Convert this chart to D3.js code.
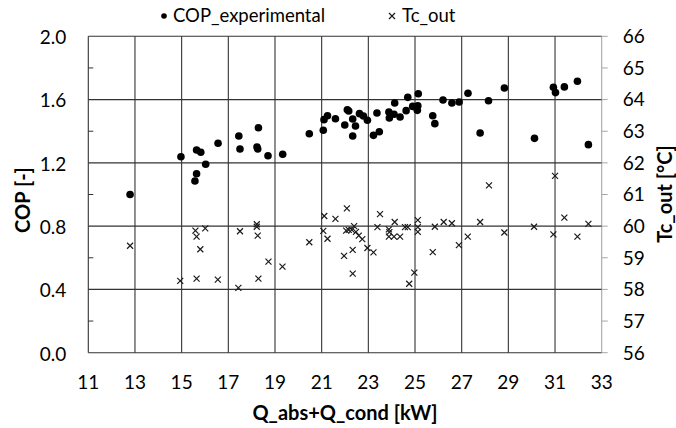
<!DOCTYPE html>
<html><head><meta charset="utf-8">
<script src="https://cdn.jsdelivr.net/npm/d3@7"></script>
<style>body{margin:0;background:#fff}svg{display:block}text{font-family:Lato,"Open Sans",sans-serif;fill:#000}</style>
</head><body>
<script>
const copX = [12.79,14.97,15.64,15.82,15.57,15.64,16.03,16.56,17.45,17.5,18.29,18.23,18.26,18.7,19.33,
20.47,21.07,21.1,21.25,21.59,21.99,22.1,22.16,22.33,22.45,22.33,22.62,22.79,22.96,23.22,23.47,23.37,23.88,23.9,24.1,24.36,24.13,24.62,24.69,24.9,25.14,25.12,25.1,25.76,25.85,26.2,26.58,26.89,27.27,
28.15,27.79,28.83,30.12,30.93,31.02,31.4,31.96,32.43];
const copY = [1.00,1.239,1.281,1.267,1.085,1.131,1.191,1.324,1.370,1.288,1.422,1.300,1.288,1.245,1.254,
1.384,1.406,1.473,1.498,1.479,1.439,1.536,1.528,1.477,1.433,1.370,1.511,1.496,1.469,1.374,1.397,1.515,1.521,1.484,1.507,1.490,1.578,1.530,1.614,1.557,1.637,1.561,1.532,1.498,1.448,1.597,1.578,1.585,1.640,
1.593,1.389,1.673,1.355,1.678,1.644,1.680,1.716,1.315];
const tcX = [12.79,14.94,15.59,15.64,16.01,15.8,15.64,16.55,17.5,17.43,18.22,18.22,18.26,18.29,18.72,19.32,
20.47,21.11,21.07,21.25,21.59,22.08,21.96,22.05,22.16,22.33,22.33,22.29,22.39,22.47,22.59,22.74,22.96,23.22,23.39,23.5,23.88,23.88,23.9,24.13,24.1,24.36,24.57,24.69,24.75,24.97,25.12,25.12,25.12,25.76,25.85,26.23,26.58,26.88,27.26,
27.79,28.17,28.83,30.1,30.93,31.0,31.4,31.96,32.43];
const tcY = [59.38,58.27,59.86,59.67,59.93,59.27,58.34,58.31,59.84,58.05,60.06,59.98,59.70,58.34,58.88,58.72,
59.49,60.32,59.85,59.60,60.23,60.56,59.06,59.86,59.88,59.25,58.50,59.88,60.00,59.82,59.70,59.59,59.31,59.17,59.97,60.38,59.90,59.67,59.81,60.13,59.67,59.67,59.97,59.97,58.18,58.53,60.19,59.97,59.82,59.18,59.98,60.13,60.09,59.40,59.67,
60.13,61.29,59.80,59.98,59.74,61.59,60.27,59.67,60.07];
const xTicks = [11,13,15,17,19,21,23,25,27,29,31,33];
const yTicks = [0.0,0.4,0.8,1.2,1.6,2.0];
const yMinor = [0.2,0.6,1.0,1.4,1.8];
const y2Ticks = [56,57,58,59,60,61,62,63,64,65,66];

const W=676,H=428;
const L=88.3,R=601.7,T=36.3,B=352.7;
const svg=d3.select("body").append("svg").attr("width",W).attr("height",H);
const x=d3.scaleLinear().domain([11,33]).range([L,R]);
const y=d3.scaleLinear().domain([0,2]).range([B,T]);
const y2=d3.scaleLinear().domain([56,66]).range([B,T]);
const grid="#333";

svg.append("g").selectAll("line").data(xTicks).join("line")
 .attr("x1",d=>x(d)).attr("x2",d=>x(d)).attr("y1",T).attr("y2",B)
 .attr("stroke",d=>d===33?"#a6a6a6":grid).attr("stroke-width",1.1);
svg.append("g").selectAll("line").data(yTicks).join("line")
 .attr("x1",L).attr("x2",R).attr("y1",d=>y(d)).attr("y2",d=>y(d))
 .attr("stroke",grid).attr("stroke-width",1.1);
svg.append("g").selectAll("line").data(yMinor).join("line")
 .attr("x1",L).attr("x2",L+5).attr("y1",d=>y(d)).attr("y2",d=>y(d))
 .attr("stroke",grid);
svg.append("g").selectAll("line").data(y2Ticks).join("line")
 .attr("x1",R).attr("x2",R+6).attr("y1",d=>y2(d)).attr("y2",d=>y2(d))
 .attr("stroke","#a6a6a6");

svg.append("g").selectAll("text").data(yTicks).join("text")
 .attr("x",L-22).attr("y",d=>y(d)+1).attr("dy","0.36em").attr("text-anchor","end")
 .attr("font-size",19).text(d=>d.toFixed(1));
svg.append("g").selectAll("text").data(y2Ticks).join("text")
 .attr("x",R+21).attr("y",d=>y2(d)).attr("dy","0.36em").attr("text-anchor","start")
 .attr("font-size",19).text(d=>d);
svg.append("g").selectAll("text").data(xTicks).join("text")
 .attr("x",d=>x(d)).attr("y",B+36).attr("text-anchor","middle")
 .attr("font-size",19).text(d=>d);

svg.append("text").attr("transform",`translate(30,200) rotate(-90)`)
 .attr("text-anchor","middle").attr("font-size",20).attr("font-weight","bold").text("COP [-]");
svg.append("text").attr("transform",`translate(672,194) rotate(-90)`)
 .attr("text-anchor","middle").attr("font-size",20).attr("font-weight","bold").text("Tc_out [°C]");
svg.append("text").attr("x",(L+R)/2).attr("y",420).attr("text-anchor","middle")
 .attr("font-size",20).attr("font-weight","bold").text("Q_abs+Q_cond [kW]");

const cs=3;
const tcG=svg.append("g");
tcX.forEach((v,i)=>{
  const cx=x(v),cy=y2(tcY[i]);
  tcG.append("path").attr("d",`M${cx-cs},${cy-cs}L${cx+cs},${cy+cs}M${cx-cs},${cy+cs}L${cx+cs},${cy-cs}`)
   .attr("stroke","#1a1a1a").attr("stroke-width",1.2).attr("fill","none");
});
svg.append("g").selectAll("circle").data(copX.map((v,i)=>[v,copY[i]])).join("circle")
 .attr("cx",d=>x(d[0])).attr("cy",d=>y(d[1])).attr("r",3.8).attr("fill","#000");

svg.append("circle").attr("cx",164).attr("cy",16).attr("r",2.8).attr("fill","#000");
svg.append("text").attr("x",173).attr("y",22).attr("font-size",18.5).text("COP_experimental");
svg.append("path").attr("d","M389,13L395,19M389,19L395,13").attr("stroke","#1a1a1a").attr("stroke-width",1.2);
svg.append("text").attr("x",402).attr("y",22).attr("font-size",18.5).text("Tc_out");
</script>
</body></html>
